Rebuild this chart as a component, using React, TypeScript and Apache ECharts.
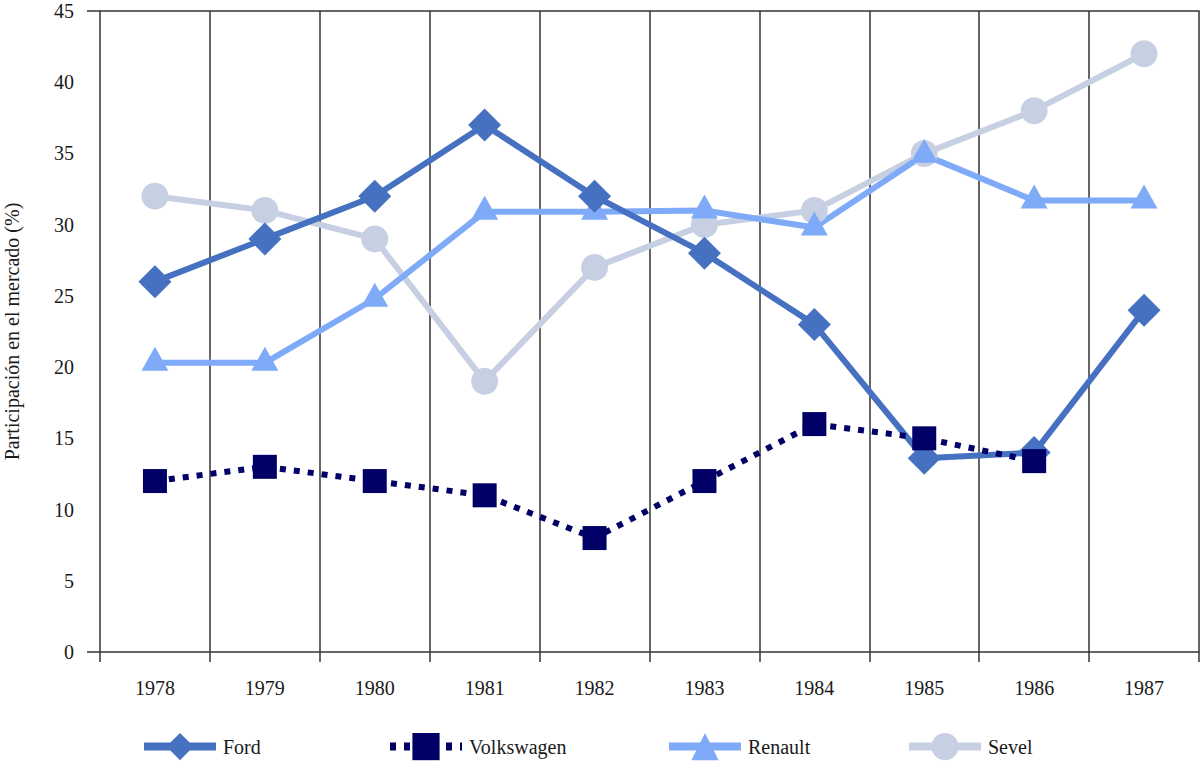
import React, { useEffect, useRef } from "react";
import * as echarts from "echarts";

const years = ["1978", "1979", "1980", "1981", "1982", "1983", "1984", "1985", "1986", "1987"];
const ford = [26, 29, 32, 37, 32, 28, 23, 13.6, 14, 24];
const volkswagen = [12, 13, 12, 11, 8, 12, 16, 15, 13.4, null];
const renault = [20.3, 20.3, 24.8, 30.9, 30.9, 31, 29.8, 34.9, 31.7, 31.7];
const sevel = [32, 31, 29, 19, 27, 30, 31, 35, 38, 42];
const yTicks = { min: 0, max: 45, interval: 5 };
const yAxisTitle = "Participación en el mercado (%)";

const FONT = "'Liberation Serif', 'DejaVu Serif', serif";
const GRID = { left: 100, right: 1, top: 11, bottom: 109 };

export default function App() {
  const ref = useRef<HTMLDivElement>(null);
  useEffect(() => {
    if (!ref.current) return;
    const chart = echarts.init(ref.current, undefined, { renderer: "svg" });
    const text = { fontFamily: FONT, fontSize: 20, color: "#1a1a1a" };
    const legend = (name: string, left: number) => ({
      data: [name],
      left,
      top: 728,
      itemWidth: 72,
      itemHeight: 34,
      itemGap: 0,
      lineStyle: { width: 8 },
      textStyle: { ...text, padding: [0, 0, 0, 2] },
    });
    const plotBottom = 761 - GRID.bottom;
    chart.setOption({
      animation: false,
      backgroundColor: "#ffffff",
      grid: { ...GRID, outerBoundsMode: "none", containLabel: false },
      legend: [
        legend("Ford", 135),
        legend("Volkswagen", 381),
        legend("Renault", 660),
        legend("Sevel", 900),
      ],
      xAxis: [
        {
          type: "category",
          data: years,
          boundaryGap: true,
          axisLine: { show: true, lineStyle: { color: "#333", width: 1.5 } },
          axisTick: { show: true, length: 10, interval: 0, lineStyle: { color: "#333", width: 1.5 } },
          axisLabel: { ...text, margin: 26, interval: 0 },
          splitLine: { show: true, interval: 0, lineStyle: { color: "#333", width: 1.5 } },
        },
        {
          type: "category",
          data: years,
          position: "top",
          boundaryGap: true,
          axisLine: { show: true, lineStyle: { color: "#333", width: 1.5 } },
          axisTick: { show: false },
          axisLabel: { show: false },
          splitLine: { show: false },
        },
      ],
      yAxis: {
        type: "value",
        ...yTicks,
        name: yAxisTitle,
        nameLocation: "middle",
        nameGap: 78,
        nameTextStyle: text,
        axisLine: { show: false },
        axisTick: { show: false },
        splitLine: { show: false },
        axisLabel: { ...text, margin: 26 },
      },
      graphic: [
        { type: "line", shape: { x1: 87, y1: GRID.top, x2: GRID.left, y2: GRID.top }, style: { stroke: "#333", lineWidth: 1.5 } },
        { type: "line", shape: { x1: 87, y1: plotBottom, x2: GRID.left, y2: plotBottom }, style: { stroke: "#333", lineWidth: 1.5 } },
      ],
      series: [
        {
          name: "Sevel",
          type: "line",
          data: sevel,
          symbol: "circle",
          symbolSize: 27,
          itemStyle: { color: "#c7cfe3" },
          lineStyle: { color: "#c7cfe3", width: 6 },
        },
        {
          name: "Renault",
          type: "line",
          data: renault,
          symbol: "triangle",
          symbolSize: [27, 24],
          symbolOffset: [0, -4],
          itemStyle: { color: "#7faaf8" },
          lineStyle: { color: "#7faaf8", width: 6 },
        },
        {
          name: "Ford",
          type: "line",
          data: ford,
          symbol: "diamond",
          symbolSize: 33,
          itemStyle: { color: "#4670c0" },
          lineStyle: { color: "#4670c0", width: 6 },
        },
        {
          name: "Volkswagen",
          type: "line",
          data: volkswagen,
          symbol: "rect",
          symbolSize: 24,
          itemStyle: { color: "#000066" },
          lineStyle: { color: "#000066", width: 6, type: [6, 8], cap: "butt" },
        },
      ],
    });
    return () => chart.dispose();
  }, []);
  return (
    <div
      ref={ref}
      style={{ position: "absolute", left: 0, top: 0, width: 1200, height: 761, background: "#fff" }}
    />
  );
}
